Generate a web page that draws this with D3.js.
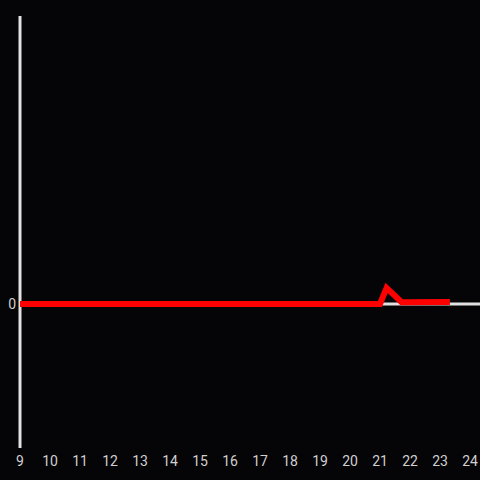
<!DOCTYPE html>
<html><head><meta charset="utf-8">
<script src="https://cdn.jsdelivr.net/npm/d3@7"></script>
<style>html,body{margin:0;padding:0;background:#050407;}svg{display:block;}</style>
</head><body>
<script>
const hours = [9, 21, 21.22, 21.72, 23.33];
const values = [0, 0, 5.6, 0.6, 0.7];
const xTicks = [9,10,11,12,13,14,15,16,17,18,19,20,21,22,23,24];
const yTicks = [0];

const W = 480, H = 480;
const svg = d3.select("body").append("svg").attr("width", W).attr("height", H);
svg.append("rect").attr("width", W).attr("height", H).attr("fill", "#050407");

const x = d3.scaleLinear().domain([9, 24]).range([20, 470]);
const y = d3.scaleLinear().domain([-50, 100]).range([448, 16]);

// y axis line
svg.append("line").attr("x1", x(9)).attr("x2", x(9)).attr("y1", y(100)).attr("y2", y(-50))
  .attr("stroke", "#e2e2e2").attr("stroke-width", 3);
// x axis (zero) line
svg.append("line").attr("x1", x(9)).attr("x2", W).attr("y1", y(0)).attr("y2", y(0))
  .attr("stroke", "#e2e2e2").attr("stroke-width", 3);

// x tick labels
svg.append("g").selectAll("text").data(xTicks).join("text")
  .attr("x", d => x(d)).attr("y", 461).attr("dy", "0.35em")
  .attr("text-anchor", "middle").attr("fill", "#d0d0d0")
  .attr("font-family", "Roboto, sans-serif").attr("font-size", 14)
  .text(d => d);

// y tick labels
svg.append("g").selectAll("text").data(yTicks).join("text")
  .attr("x", 16).attr("y", d => y(d)).attr("dy", "0.35em")
  .attr("text-anchor", "end").attr("fill", "#d0d0d0")
  .attr("font-family", "Roboto, sans-serif").attr("font-size", 14)
  .text(d => d);

const data = hours.map((h, i) => ({h, v: values[i]}));
svg.append("path").datum(data)
  .attr("d", d3.line().x(d => x(d.h)).y(d => y(d.v)))
  .attr("fill", "none").attr("stroke", "#ff0000").attr("stroke-width", 6)
  .attr("stroke-linejoin", "miter");
</script>
</body></html>
